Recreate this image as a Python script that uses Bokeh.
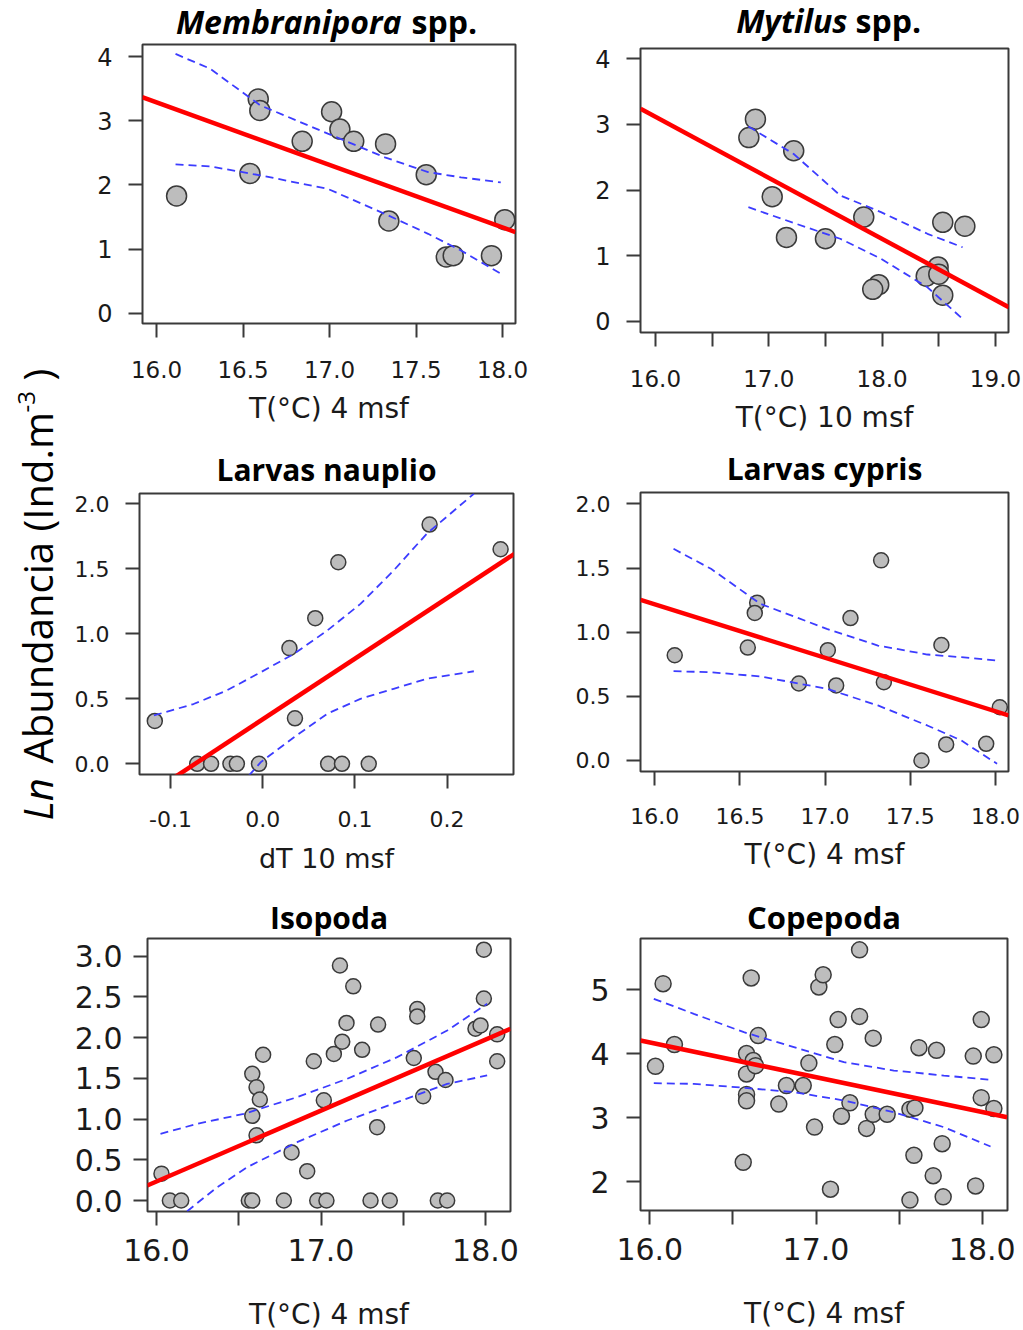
from math import pi
from bokeh.plotting import figure
from bokeh.models import Range1d, FixedTicker, Label
from bokeh.layouts import row, column
from bokeh.embed import file_html
from bokeh.resources import INLINE

# ---------------- data ----------------
# Membranipora spp.
memb_x = [16.116, 16.54, 16.588, 16.597, 16.842, 17.012, 17.06, 17.14, 17.324, 17.343, 17.559, 17.675, 17.715, 17.936, 18.013]
memb_y = [1.83, 2.18, 3.34, 3.16, 2.68, 3.14, 2.87, 2.68, 2.64, 1.44, 2.16, 0.88, 0.90, 0.90, 1.46]
memb_fit_x = [15.917, 18.075]
memb_fit_y = [3.367, 1.266]
memb_ci_x = [16.11, 16.31, 16.60, 16.99, 17.32, 17.57, 17.76, 17.99]
memb_up = [4.04, 3.81, 3.24, 2.80, 2.43, 2.20, 2.12, 2.04]
memb_lo = [2.32, 2.29, 2.15, 1.94, 1.55, 1.24, 0.98, 0.62]

# Mytilus spp.
myt_x = [16.882, 16.824, 17.22, 17.03, 17.156, 17.50, 17.838, 17.97, 17.917, 18.535, 18.73, 18.494, 18.389, 18.50, 18.535]
myt_y = [3.08, 2.80, 2.60, 1.90, 1.28, 1.26, 1.59, 0.56, 0.49, 1.51, 1.45, 0.83, 0.69, 0.72, 0.40]
myt_fit_x = [15.868, 19.118]
myt_fit_y = [3.239, 0.218]
myt_ci_x = [16.82, 17.22, 17.63, 17.99, 18.40, 18.71]
myt_up = [2.97, 2.55, 1.92, 1.665, 1.335, 1.13]
myt_lo = [1.74, 1.50, 1.26, 0.955, 0.52, 0.04]

# Larvas nauplio
naup_x = [-0.117, -0.071, -0.056, -0.035, -0.028, -0.004, 0.029, 0.035, 0.057, 0.082, 0.071, 0.086, 0.115, 0.181, 0.258]
naup_y = [0.33, 0.0, 0.0, 0.0, 0.0, 0.0, 0.89, 0.35, 1.12, 1.55, 0.0, 0.0, 0.0, 1.84, 1.65]
naup_fit_x = [-0.10, 0.275]
naup_fit_y = [-0.124, 1.624]
naup_up_x = [-0.118, -0.075, -0.039, -0.002, 0.034, 0.07, 0.106, 0.142, 0.178, 0.229]
naup_up = [0.372, 0.46, 0.564, 0.705, 0.846, 1.025, 1.23, 1.487, 1.77, 2.077]
naup_lo_x = [-0.015, -0.002, 0.034, 0.07, 0.106, 0.142, 0.178, 0.229]
naup_lo = [-0.09, 0.013, 0.205, 0.385, 0.5, 0.577, 0.654, 0.712]

# Larvas cypris
cyp_x = [16.117, 16.546, 16.601, 16.587, 16.846, 17.016, 17.065, 17.149, 17.329, 17.345, 17.566, 17.683, 17.711, 17.946, 18.026]
cyp_y = [0.82, 0.88, 1.23, 1.15, 0.60, 0.86, 0.585, 1.11, 1.56, 0.61, 0.0, 0.90, 0.125, 0.13, 0.415]
cyp_fit_x = [15.916, 18.078]
cyp_fit_y = [1.252, 0.351]
cyp_ci_x = [16.11, 16.33, 16.62, 17.01, 17.31, 17.60, 17.80, 18.01]
cyp_up = [1.65, 1.494, 1.221, 1.026, 0.896, 0.826, 0.805, 0.779]
cyp_lo = [0.696, 0.688, 0.655, 0.559, 0.429, 0.273, 0.156, -0.026]

# Isopoda
iso_x = [16.030, 16.081, 16.150, 16.561, 16.582, 16.582, 16.608, 16.628, 16.582, 16.608, 16.648,
         16.774, 16.821, 16.916, 16.956, 16.977, 17.033, 17.017, 17.078, 17.115, 17.129, 17.155,
         17.196, 17.250, 17.301, 17.341, 17.347, 17.418, 17.564, 17.585, 17.585, 17.621, 17.696,
         17.757, 17.710, 17.767, 17.939, 17.970, 17.990, 17.990, 18.071, 18.071]
iso_y = [0.33, 0.0, 0.0, 0.0, 0.0, 1.555, 1.39, 1.24, 1.04, 0.80, 1.79,
         0.0, 0.59, 0.36, 1.71, 0.0, 0.0, 1.23, 1.80, 2.885, 1.95, 2.18,
         2.63, 1.85, 0.0, 0.90, 2.16, 0.0, 1.75, 2.35, 2.26, 1.28, 1.58,
         1.48, 0.0, 0.0, 2.11, 2.15, 3.08, 2.48, 2.04, 1.71]
iso_fit_x = [15.943, 18.152]
iso_fit_y = [0.184, 2.108]
iso_up_x = [16.024, 16.247, 16.531, 16.855, 17.159, 17.463, 17.767, 18.010]
iso_up = [0.819, 0.941, 1.064, 1.269, 1.494, 1.760, 2.087, 2.415]
iso_lo_x = [16.186, 16.369, 16.551, 16.855, 17.159, 17.463, 17.767, 18.010]
iso_lo = [-0.131, 0.164, 0.409, 0.716, 0.982, 1.207, 1.432, 1.535]

# Copepoda
cop_x = [16.034, 16.080, 16.148, 16.562, 16.582, 16.582, 16.582, 16.582, 16.610, 16.622, 16.636,
         16.652, 16.776, 16.822, 16.923, 16.957, 16.991, 17.017, 17.043, 17.087, 17.113, 17.133,
         17.153, 17.204, 17.262, 17.262, 17.304, 17.344, 17.344, 17.428, 17.565, 17.595, 17.589,
         17.565, 17.619, 17.705, 17.725, 17.759, 17.765, 17.946, 17.960, 17.994, 17.994, 18.070, 18.070]
cop_y = [3.80, 5.09, 4.14, 2.30, 4.00, 3.68, 3.36, 3.26, 5.18, 3.89, 3.81,
         4.28, 3.21, 3.50, 3.50, 3.85, 2.85, 5.04, 5.23, 1.88, 4.14, 4.53,
         3.02, 3.23, 5.62, 4.58, 2.83, 4.24, 3.05, 3.05, 3.13, 3.15, 2.41,
         1.71, 4.09, 2.09, 4.05, 2.59, 1.76, 3.96, 1.93, 4.53, 3.31, 3.98, 3.14]
cop_fit_x = [15.944, 18.150]
cop_fit_y = [4.203, 3.005]
cop_ci_x = [16.024, 16.265, 16.566, 16.867, 17.168, 17.468, 17.769, 18.050]
cop_up = [4.854, 4.620, 4.333, 4.099, 3.865, 3.734, 3.656, 3.589]
cop_lo = [3.536, 3.526, 3.464, 3.396, 3.266, 3.083, 2.849, 2.547]

# ticks & labels
t4_xticks = [16.0, 16.5, 17.0, 17.5, 18.0]
t4_xlabels = ["16.0", "16.5", "17.0", "17.5", "18.0"]
t10_xticks = [16.0, 17.0, 18.0, 19.0]
t10_xlabels = ["16.0", "17.0", "18.0", "19.0"]
t10_xminor = [16.5, 17.5, 18.5]
dt_xticks = [-0.1, 0.0, 0.1, 0.2]
dt_xlabels = ["-0.1", "0.0", "0.1", "0.2"]
big_xticks = [16.0, 17.0, 18.0]
big_xlabels = ["16.0", "17.0", "18.0"]
big_xminor = [16.5, 17.5]
y04_ticks = [0, 1, 2, 3, 4]
y04_labels = ["0", "1", "2", "3", "4"]
y02_ticks = [0.0, 0.5, 1.0, 1.5, 2.0]
y02_labels = ["0.0", "0.5", "1.0", "1.5", "2.0"]
y03_ticks = [0.0, 0.5, 1.0, 1.5, 2.0, 2.5, 3.0]
y03_labels = ["0.0", "0.5", "1.0", "1.5", "2.0", "2.5", "3.0"]
y25_ticks = [2, 3, 4, 5]
y25_labels = ["2", "3", "4", "5"]

xlabel_t4 = "T(°C) 4 msf"
xlabel_t10 = "T(°C) 10 msf"
xlabel_dt = "dT 10 msf"
ylabel_parts = ["Ln", "Abundancia (Ind.m", "-3", ")"]

NUM_FONT = "DejaVu Sans"
TITLE_FONT = "Open Sans"
DARK = "#3a3a3a"
BLUE = "#3c3cff"


def panel(x, y, fit_x, fit_y, up_x, up_y, lo_x, lo_y, xr, yr,
          xt, xl, xminor, yt, yl, xlabel, geom, tick_fs, ytick_fs,
          xl_fs, std, ax_std, y_std, msize):
    fw, fh, bl, br, bt, bb = geom
    p = figure(frame_width=fw, frame_height=fh,
               min_border_left=bl, min_border_right=br,
               min_border_top=bt, min_border_bottom=bb,
               x_range=Range1d(*xr), y_range=Range1d(*yr),
               output_backend="svg", toolbar_location=None)
    p.xgrid.visible = False
    p.ygrid.visible = False
    p.outline_line_color = DARK
    p.outline_line_width = 2
    p.background_fill_color = "white"
    p.border_fill_color = "white"

    p.scatter(x, y, marker="circle", size=msize, fill_color="#bdbdbd",
              line_color=DARK, line_width=1.5)
    p.line(fit_x, fit_y, line_color="#ff0000", line_width=4.5)
    p.line(up_x, up_y, line_color=BLUE, line_width=1.8, line_dash="8 5")
    p.line(lo_x, lo_y, line_color=BLUE, line_width=1.8, line_dash="8 5")

    xa = p.xaxis[0]
    xa.ticker = FixedTicker(ticks=xt, minor_ticks=xminor)
    xa.major_label_overrides = dict(zip(xt, xl))
    xa.axis_label = xlabel
    xa.axis_label_text_font = NUM_FONT
    xa.axis_label_text_font_style = "normal"
    xa.axis_label_text_font_size = xl_fs
    xa.axis_label_text_color = "#1a1a1a"
    xa.axis_label_standoff = ax_std
    xa.major_label_text_font = NUM_FONT
    xa.major_label_text_font_size = tick_fs
    xa.major_label_text_color = "#1a1a1a"
    xa.major_label_standoff = std
    xa.axis_line_color = None
    xa.major_tick_in = 0
    xa.major_tick_out = 14
    xa.minor_tick_in = 0
    xa.minor_tick_out = 14
    xa.major_tick_line_color = DARK
    xa.minor_tick_line_color = DARK
    xa.major_tick_line_width = 2
    xa.minor_tick_line_width = 2

    ya = p.yaxis[0]
    ya.ticker = FixedTicker(ticks=yt)
    ya.major_label_overrides = dict(zip(yt, yl))
    ya.major_label_text_font = NUM_FONT
    ya.major_label_text_font_size = ytick_fs
    ya.major_label_text_color = "#1a1a1a"
    ya.major_label_standoff = y_std
    ya.axis_line_color = None
    ya.major_tick_in = 0
    ya.major_tick_out = 14
    ya.minor_tick_line_color = None
    ya.major_tick_line_color = DARK
    ya.major_tick_line_width = 2
    return p


def title_strip(geom, h, parts, base_y):
    # same horizontal geometry as the panel below; parts: (text, style, size, x, align)
    fw, fh, bl, br, bt, bb = geom
    t = figure(frame_width=fw, frame_height=h,
               min_border_left=bl, min_border_right=br,
               min_border_top=0, min_border_bottom=0,
               x_range=Range1d(0, fw), y_range=Range1d(0, h),
               x_axis_type=None, y_axis_type=None,
               output_backend="svg", toolbar_location=None)
    t.outline_line_color = None
    t.xgrid.visible = False
    t.ygrid.visible = False
    for txt, style, fs, tx, align in parts:
        t.add_layout(Label(x=tx, y=base_y, text=txt, text_font=TITLE_FONT,
                           text_font_style=style, text_font_size=fs,
                           text_align=align, text_baseline="alphabetic",
                           text_color="black"))
    return t


# geometry: frame w, frame h, left, right, top, bottom borders
g1 = (373, 279, 72, 45, 1, 122)
g2 = (368, 284, 80, 15, 1, 113)
g3 = (374, 281, 69, 47, 1, 116)
g4 = (368, 279, 80, 15, 1, 119)
g5 = (363, 273, 77, 50, 1, 119)
g6 = (367, 272, 80, 16, 1, 120)

p1 = panel(memb_x, memb_y, memb_fit_x, memb_fit_y, memb_ci_x, memb_up, memb_ci_x, memb_lo,
           (15.919, 18.075), (-0.156, 4.187), t4_xticks, t4_xlabels, [], y04_ticks, y04_labels,
           xlabel_t4, g1, "23px", "24px", "28px", 23, 11, 16, 20)
p2 = panel(myt_x, myt_y, myt_fit_x, myt_fit_y, myt_ci_x, myt_up, myt_ci_x, myt_lo,
           (15.868, 19.115), (-0.168, 4.157), t10_xticks, t10_xlabels, t10_xminor, y04_ticks, y04_labels,
           xlabel_t10, g2, "23px", "24px", "28px", 23, 11, 16, 20)
p3 = panel(naup_x, naup_y, naup_fit_x, naup_fit_y, naup_up_x, naup_up, naup_lo_x, naup_lo,
           (-0.1336, 0.272), (-0.082, 2.079), dt_xticks, dt_xlabels, [], y02_ticks, y02_labels,
           xlabel_dt, g3, "22px", "22px", "27px", 22, 13, 16, 15)
p4 = panel(cyp_x, cyp_y, cyp_fit_x, cyp_fit_y, cyp_ci_x, cyp_up, cyp_ci_x, cyp_lo,
           (15.916, 18.077), (-0.086, 2.089), t4_xticks, t4_xlabels, [], y02_ticks, y02_labels,
           xlabel_t4, g4, "22px", "22px", "28px", 22, 11, 16, 15)
p5 = panel(iso_x, iso_y, iso_fit_x, iso_fit_y, iso_up_x, iso_up, iso_lo_x, iso_lo,
           (15.945, 18.152), (-0.135, 3.217), big_xticks, big_xlabels, big_xminor, y03_ticks, y03_labels,
           xlabel_t4, g5, "30px", "30px", "28px", 13, 34, 11, 15)
p6 = panel(cop_x, cop_y, cop_fit_x, cop_fit_y, cop_ci_x, cop_up, cop_ci_x, cop_lo,
           (15.944, 18.152), (1.547, 5.797), big_xticks, big_xlabels, big_xminor, y25_ticks, y25_labels,
           xlabel_t4, g6, "30px", "30px", "28px", 13, 34, 17, 16)

# title strips (x positions relative to the frame of the panel below)
s1 = title_strip(g1, 43, [("Membranipora", "bold italic", "32px", 259, "right"),
                          ("spp.", "bold", "32px", 269, "left")], 22)
s2 = title_strip(g2, 47, [("Mytilus", "bold italic", "32px", 207, "right"),
                          ("spp.", "bold", "32px", 215, "left")], 27)
s3 = title_strip(g3, 47, [("Larvas nauplio", "bold", "30px", 187, "center")], 23)
s4 = title_strip(g4, 46, [("Larvas cypris", "bold", "30px", 184, "center")], 23)
s5 = title_strip(g5, 47, [("Isopoda", "bold", "30px", 181.5, "center")], 20)
s6 = title_strip(g6, 47, [("Copepoda", "bold", "31px", 183.5, "center")], 21)

# shared y-axis label column
YW = 70
ylab = figure(frame_width=YW, frame_height=1330, min_border=0,
              x_range=Range1d(0, YW), y_range=Range1d(0, 1330),
              x_axis_type=None, y_axis_type=None,
              output_backend="svg", toolbar_location=None)
ylab.outline_line_color = None
ylab.xgrid.visible = False
ylab.ygrid.visible = False
ylab_specs = [  # text, style, size, baseline x, start y
    (ylabel_parts[0], "italic", "40px", 37, 510),
    (ylabel_parts[1], "normal", "40px", 37, 567),
    (ylabel_parts[2], "normal", "24px", 26, 918),
    (ylabel_parts[3], "normal", "40px", 37, 950),
]
for txt, style, fs, bx, by in ylab_specs:
    ylab.add_layout(Label(x=bx, y=by, text=txt, angle=pi / 2, text_font="Open Sans",
                          text_font_style=style, text_font_size=fs, text_align="left",
                          text_baseline="alphabetic", text_color="black"))

grid = column(row(column(s1, p1), column(s2, p2)),
              row(column(s3, p3), column(s4, p4)),
              row(column(s5, p5), column(s6, p6)))
layout = row(ylab, grid)

open("out.html", "w").write(file_html(layout, INLINE))
